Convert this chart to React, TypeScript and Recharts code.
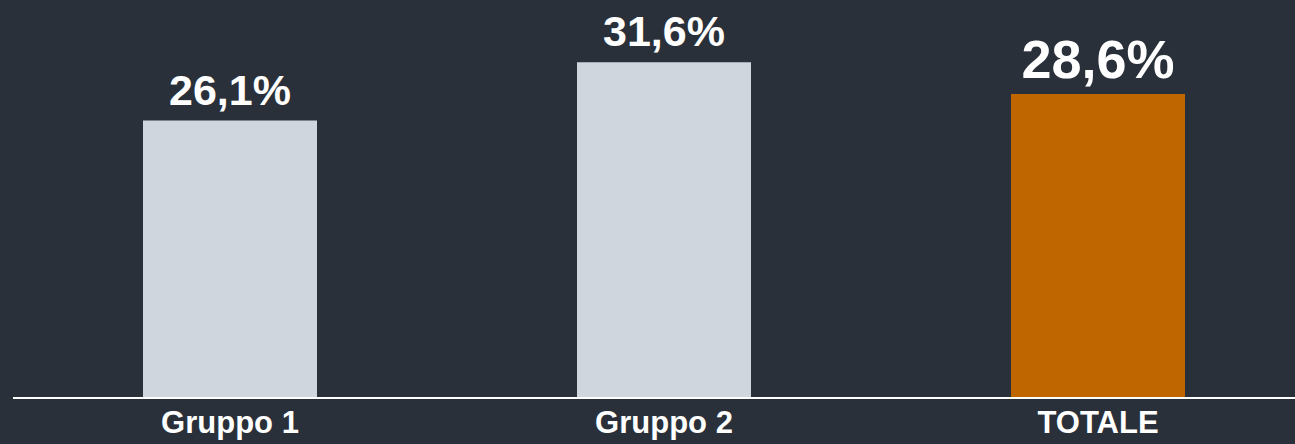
import React from 'react'
import { Bar, BarChart, Cell, LabelList, XAxis, YAxis } from 'recharts';

const categories = ['Gruppo 1', 'Gruppo 2', 'TOTALE'];
const values = [26.1, 31.6, 28.6];
const barColors = ['#cfd6de', '#cfd6de', '#c06600'];

const data = categories.map((name, i) => ({ name, value: values[i] }));

const font = '"Liberation Sans", Arial, sans-serif';

const ValueLabel = (props: any) => {
  const { x, y, width, value, index } = props;
  const big = index === 2;
  return (
    <text
      x={x + width / 2}
      y={y - 16}
      textAnchor="middle"
      fill="#ffffff"
      fontFamily={font}
      fontWeight="bold"
      fontSize={big ? 54 : 43}
    >
      {value.toFixed(1).replace('.', ',') + '%'}
    </text>
  );
};

const CategoryTick = ({ x, y, payload }: any) => (
  <text x={x} y={y + 27} textAnchor="middle" fill="#ffffff" fontFamily={font} fontWeight="bold" fontSize={31}>
    {payload.value}
  </text>
);

const App = () => {
  return (
    <div style={{ position: 'absolute', left: 0, top: 0, width: 1295, height: 444, background: '#29303a', overflow: 'hidden' }}>
      <BarChart width={1315} height={444} data={data} margin={{ top: 26, right: 0, bottom: 0, left: 13 }}>
        <XAxis
          dataKey="name"
          height={46}
          tickLine={false}
          axisLine={{ stroke: '#ffffff', strokeWidth: 2 }}
          tick={<CategoryTick />}
          interval={0}
        />
        <YAxis hide domain={[0, 35]} />
        <Bar dataKey="value" barSize={174} isAnimationActive={false}>
          {data.map((d, i) => (
            <Cell key={d.name} fill={barColors[i]} />
          ))}
          <LabelList dataKey="value" content={<ValueLabel />} />
        </Bar>
      </BarChart>
    </div>
  );
};

export default App
